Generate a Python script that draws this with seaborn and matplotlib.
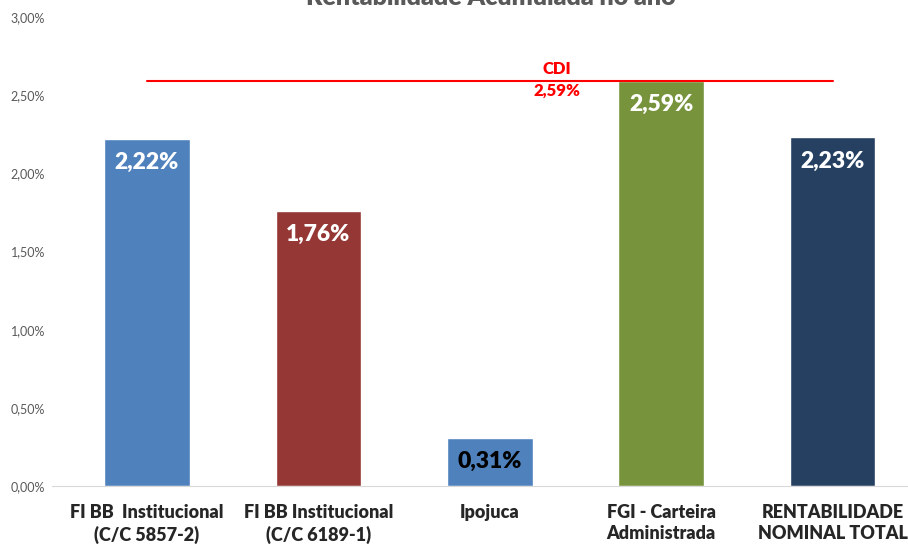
import pandas as pd
import seaborn as sns
from matplotlib import pyplot as plt
from matplotlib.ticker import FuncFormatter

# dados do grafico
fundos = ["FI BB  Institucional\n(C/C 5857-2)", "FI BB Institucional\n(C/C 6189-1)", "Ipojuca",
          "FGI - Carteira\nAdministrada", "RENTABILIDADE\nNOMINAL TOTAL"]
rentabilidade = [2.22, 1.76, 0.31, 2.59, 2.23]
cores = ["#4F81BD", "#953735", "#4F81BD", "#77933C", "#254061"]
cor_rotulo = ["white", "white", "black", "white", "white"]
cdi = 2.59

dados = pd.DataFrame({"fundo": fundos, "rent": rentabilidade})

sns.set_style("white")
plt.rcParams['font.family'] = ['Lato', 'DejaVu Sans']

fig = plt.figure(figsize=(9.08, 5.49), dpi=100)
ax = fig.add_axes([52 / 908, 0.1148, 856 / 908, 0.854])

sns.barplot(x="fundo", y="rent", data=dados, hue="fundo", palette=cores, legend=False,
            width=0.5, saturation=1, ax=ax)

# rotulos dentro das barras
for i, v in enumerate(rentabilidade):
    ax.annotate(("%.2f%%" % v).replace(".", ","), (i, v), xytext=(0, -17), textcoords="offset points",
                ha="center", va="center", fontsize=16.5, fontweight="heavy", color=cor_rotulo[i])

# linha do CDI
ax.plot([0, 4], [cdi, cdi], color="red", lw=1.5)
ax.annotate("CDI", (2.39, cdi), xytext=(0, 3), textcoords="offset points", color="red",
            fontsize=12, fontweight="heavy", ha="center", va="bottom")
ax.annotate(("%.2f%%" % cdi).replace(".", ","), (2.39, cdi), xytext=(0, -1), textcoords="offset points",
            color="red", fontsize=12, fontweight="heavy", ha="center", va="top")

ax.set_ylim(0, 3.0)
ax.set_xlim(-0.554, 4.44)
ax.set_yticks([0, 0.5, 1.0, 1.5, 2.0, 2.5, 3.0])
ax.yaxis.set_major_formatter(FuncFormatter(lambda v, p: ("%.2f%%" % v).replace(".", ",")))
ax.tick_params(axis="y", labelsize=9, labelcolor="#595959", length=0, pad=5)
ax.tick_params(axis="x", length=0, pad=13)
for lab in ax.get_xticklabels():
    lab.set_fontweight("heavy")
    lab.set_fontsize(13)
    lab.set_linespacing(1.3)
ax.set_xlabel("")
ax.set_ylabel("")
for s in ["top", "right", "left"]:
    ax.spines[s].set_visible(False)
ax.spines["bottom"].set_color("#D9D9D9")

# titulo (cortado no topo, como na imagem original)
fig.text(491 / 908, 1.004, "Rentabilidade Acumulada no ano", ha="center", va="center",
         fontsize=18, fontweight="heavy", color="#595959")

fig.savefig("out.png", dpi=100)
